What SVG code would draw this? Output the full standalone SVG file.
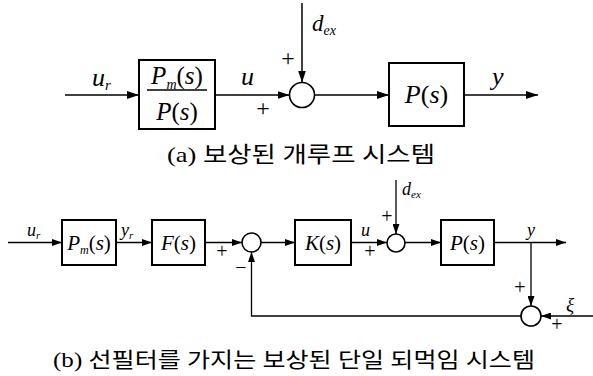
<svg xmlns="http://www.w3.org/2000/svg" width="593" height="376" viewBox="0 0 593 376">
<style>
.box{fill:#fff;stroke:#000;stroke-width:2}
.sum{fill:#fff;stroke:#000;stroke-width:1.6}
.ln{fill:none;stroke:#000;stroke-width:1.5}
.lb{fill:none;stroke:#000;stroke-width:1.3}
.mi{font-family:"Liberation Serif",serif;font-style:italic;fill:#000}
.up{font-style:normal}
.pm{font-family:"Liberation Serif",serif;fill:#000;text-anchor:middle}
.cap{font-family:"Liberation Serif","Noto Sans CJK KR",sans-serif;fill:#000}
</style>
<defs>
<marker id="A" viewBox="0 0 12 8" refX="12" refY="4" markerWidth="12" markerHeight="8" orient="auto" markerUnits="userSpaceOnUse"><path d="M0,0L12,4L0,8z"/></marker>
<marker id="a" viewBox="0 0 10 7" refX="10" refY="3.5" markerWidth="10" markerHeight="7" orient="auto" markerUnits="userSpaceOnUse"><path d="M0,0L10,3.5L0,7z"/></marker>
</defs>

<g id="connectors-a" class="ln">
<path d="M65,95H139" marker-end="url(#A)"/>
<path d="M215,95H289.5" marker-end="url(#A)"/>
<path d="M302,3V82.5" marker-end="url(#A)"/>
<path d="M314.5,95H389" marker-end="url(#A)"/>
<path d="M464,95H538" marker-end="url(#A)"/>
</g>

<g id="comp-a">
<rect class="box" x="139" y="60" width="76" height="69"/>
<path d="M147,90H207" stroke="#000" stroke-width="1.3"/>
<text class="mi" x="177" y="84" font-size="25" text-anchor="middle">P<tspan font-size="14" dy="5">m</tspan><tspan class="up" dy="-5">(</tspan>s<tspan class="up">)</tspan></text>
<text class="mi" x="177" y="120" font-size="25" text-anchor="middle">P<tspan class="up">(</tspan>s<tspan class="up">)</tspan></text>
</g>
<g id="sum-a">
<circle class="sum" cx="302" cy="95" r="12.5"/>
</g>
<g id="plant-a">
<rect class="box" x="389" y="63" width="75" height="63"/>
<text class="mi" x="426.5" y="103" font-size="26" text-anchor="middle">P<tspan class="up">(</tspan>s<tspan class="up">)</tspan></text>
</g>
<g id="labels-a">
<text class="mi" x="92" y="86" font-size="26">u<tspan font-size="15" dy="4">r</tspan></text>
<text class="mi" x="241" y="85" font-size="26">u</text>
<text class="pm" x="263" y="116" font-size="24">+</text>
<text class="pm" x="288" y="66" font-size="24">+</text>
<text class="mi" x="312" y="31" font-size="23">d<tspan font-size="14" dy="4">ex</tspan></text>
<text class="mi" x="492" y="85" font-size="26">y</text>
</g>
<text class="cap" x="167" y="162" font-size="22" textLength="268" lengthAdjust="spacingAndGlyphs">(a) 보상된 개루프 시스템</text>

<g id="connectors-b" class="lb">
<path d="M8,242.5H62" marker-end="url(#a)"/>
<path d="M116,242.5H152" marker-end="url(#a)"/>
<path d="M205,242.5H242" marker-end="url(#a)"/>
<path d="M261,242.5H295" marker-end="url(#a)"/>
<path d="M351,242.5H387" marker-end="url(#a)"/>
<path d="M396,180V234" marker-end="url(#a)"/>
<path d="M405,242.5H441" marker-end="url(#a)"/>
<path d="M494,242.5H566" marker-end="url(#a)"/>
<path d="M531,242.5V306" marker-end="url(#a)"/>
<path d="M593,316H541" marker-end="url(#a)"/>
<path d="M521,316H251.5V252" marker-end="url(#a)"/>
</g>

<g id="model-b">
<rect class="box" x="62" y="220" width="54" height="45"/>
<text class="mi" x="89" y="250" font-size="21" text-anchor="middle">P<tspan font-size="12" dy="4">m</tspan><tspan class="up" dy="-4">(</tspan>s<tspan class="up">)</tspan></text>
</g>
<g id="filter-b">
<rect class="box" x="152" y="220" width="53" height="45"/>
<text class="mi" x="178.5" y="250" font-size="21" text-anchor="middle">F<tspan class="up">(</tspan>s<tspan class="up">)</tspan></text>
</g>
<g id="sum1-b">
<circle class="sum" cx="251.5" cy="242.5" r="9.5"/>
</g>
<g id="controller-b">
<rect class="box" x="295" y="220" width="56" height="45"/>
<text class="mi" x="323" y="250" font-size="21" text-anchor="middle">K<tspan class="up">(</tspan>s<tspan class="up">)</tspan></text>
</g>
<g id="sum2-b">
<circle class="sum" cx="396" cy="243" r="9"/>
</g>
<g id="plant-b">
<rect class="box" x="441" y="220" width="53" height="45"/>
<text class="mi" x="467.5" y="250" font-size="21" text-anchor="middle">P<tspan class="up">(</tspan>s<tspan class="up">)</tspan></text>
</g>
<g id="sum3-b">
<circle class="sum" cx="531" cy="316" r="10"/>
</g>
<g id="labels-b">
<text class="mi" x="27" y="236" font-size="18">u<tspan font-size="11" dy="3">r</tspan></text>
<text class="mi" x="121" y="236" font-size="18">y<tspan font-size="11" dy="3">r</tspan></text>
<text class="pm" x="222" y="258" font-size="20">+</text>
<text class="pm" x="241" y="274" font-size="20">−</text>
<text class="mi" x="361" y="236" font-size="18">u</text>
<text class="pm" x="370" y="258" font-size="20">+</text>
<text class="mi" x="402" y="195" font-size="18">d<tspan font-size="11" dy="3">ex</tspan></text>
<text class="pm" x="387" y="223" font-size="20">+</text>
<text class="mi" x="527" y="236" font-size="18">y</text>
<text class="pm" x="520" y="294" font-size="20">+</text>
<text class="mi" x="566" y="311" font-size="19">ξ</text>
<text class="pm" x="557" y="331" font-size="20">+</text>
</g>
<text class="cap" x="53" y="367" font-size="21" textLength="482" lengthAdjust="spacingAndGlyphs">(b) 선필터를 가지는 보상된 단일 되먹임 시스템</text>
</svg>
